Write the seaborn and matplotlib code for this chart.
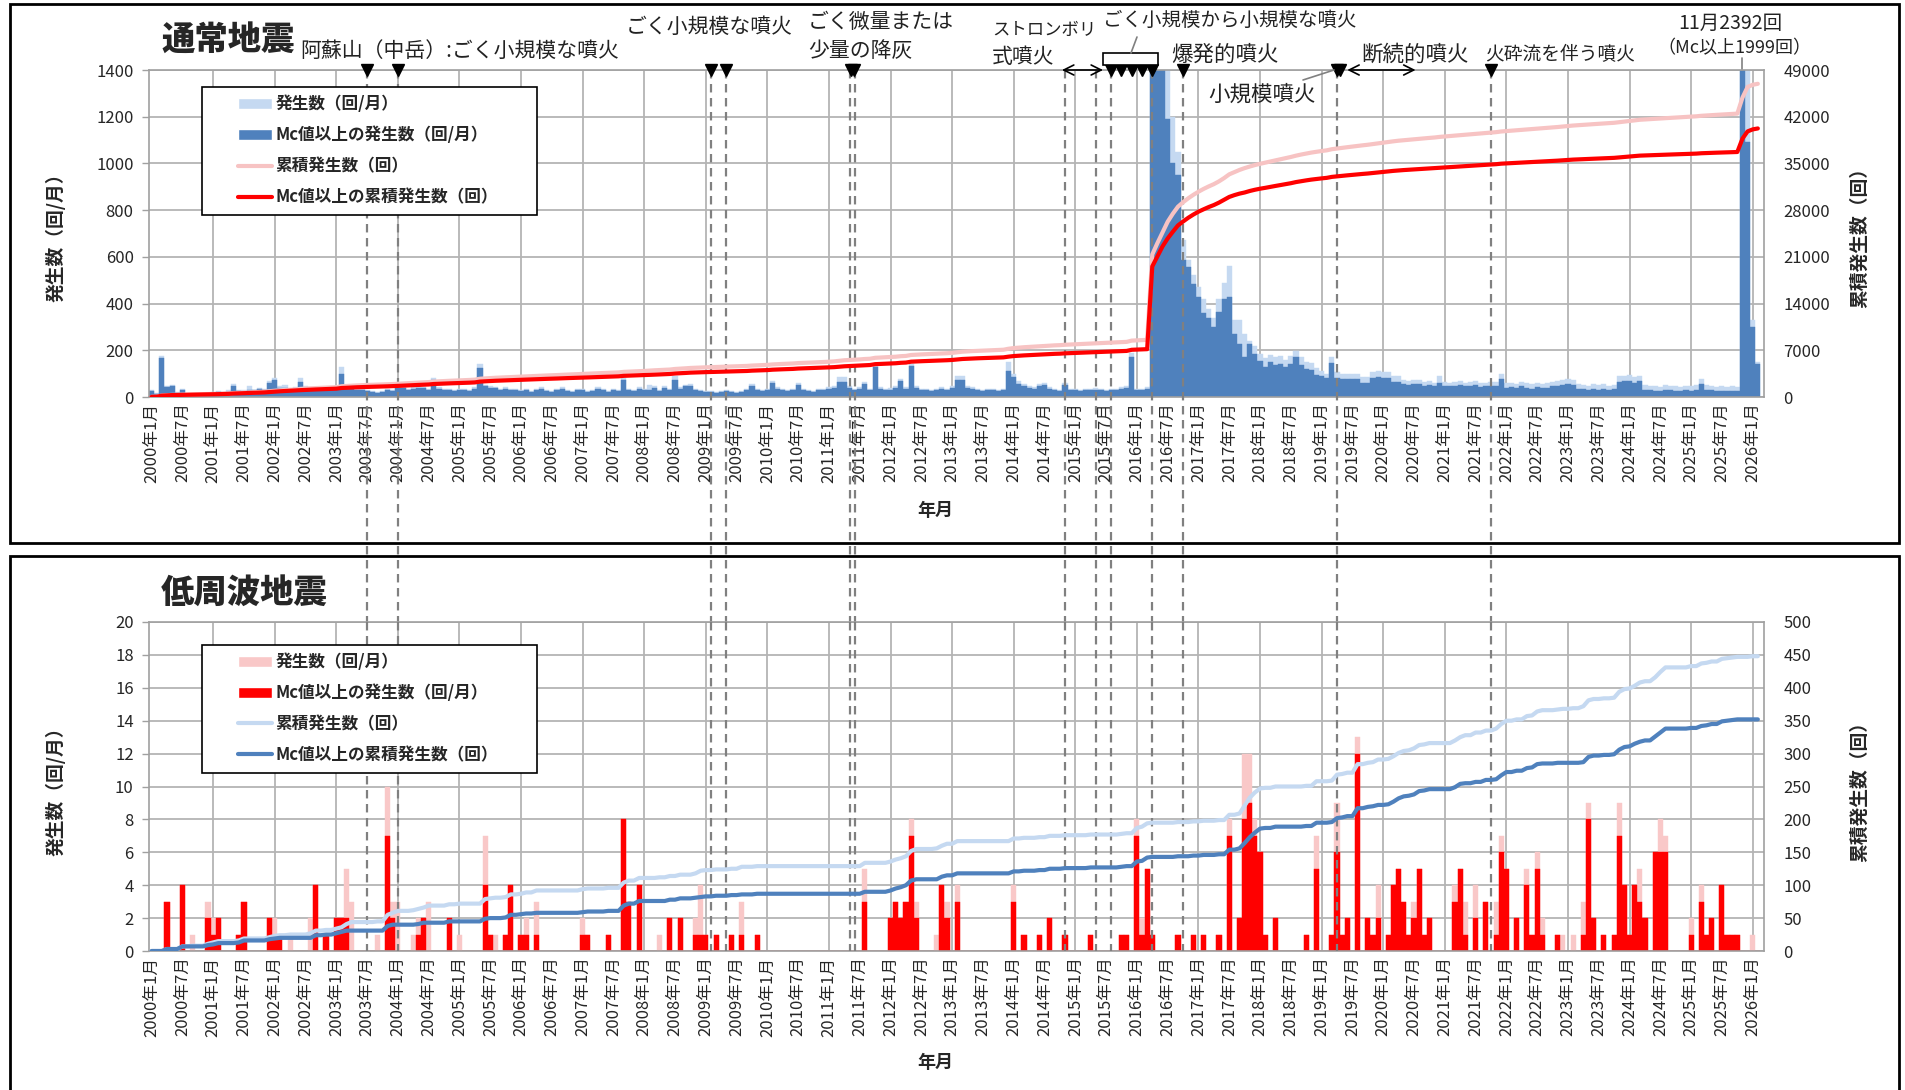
import numpy as np
import pandas as pd
import matplotlib
matplotlib.use("Agg")
import matplotlib.pyplot as plt
import matplotlib.transforms as mtransforms
from matplotlib.patches import Patch, Rectangle
from matplotlib.lines import Line2D
from matplotlib.legend_handler import HandlerPatch, HandlerLine2D
import seaborn as sns

# monthly counts, 2000-01 .. 2026-02, one row per year
vt_total = [
    28, 15, 175, 48, 50, 22, 34, 12, 10, 13, 15, 18,
    22, 25, 22, 28, 55, 30, 28, 45, 32, 40, 35, 70,
    83, 48, 50, 36, 42, 83, 48, 42, 36, 33, 30, 35,
    40, 130, 48, 45, 38, 36, 30, 25, 22, 26, 33, 30,
    45, 46, 36, 42, 46, 44, 36, 80, 42, 34, 36, 30,
    33, 36, 30, 42, 140, 52, 46, 44, 36, 42, 33, 36,
    30, 36, 27, 34, 42, 30, 25, 36, 42, 30, 27, 36,
    36, 27, 30, 42, 34, 27, 36, 30, 80, 34, 30, 42,
    34, 50, 48, 30, 45, 36, 90, 42, 52, 55, 36, 30,
    27, 25, 22, 27, 30, 25, 22, 25, 36, 55, 34, 30,
    36, 68, 42, 34, 30, 36, 60, 36, 30, 27, 34, 36,
    42, 48, 85, 85, 48, 36, 42, 65, 36, 140, 42, 36,
    38, 48, 78, 42, 140, 48, 36, 34, 30, 36, 42, 36,
    48, 92, 92, 48, 42, 36, 30, 34, 36, 30, 36, 150,
    100, 70, 55, 48, 42, 55, 58, 42, 36, 30, 58, 36,
    34, 30, 36, 34, 38, 36, 30, 34, 36, 42, 48, 190,
    36, 34, 42, 12800, 1700, 1600, 1600, 1200, 1050, 672, 586, 521,
    470, 420, 375, 340, 420, 490, 560, 330, 330, 270, 240, 220,
    185, 165, 180, 170, 175, 160, 175, 195, 170, 150, 145, 125,
    110, 100, 170, 105, 98, 98, 98, 98, 85, 85, 105, 112,
    105, 105, 90, 90, 72, 68, 74, 72, 65, 68, 62, 90,
    65, 62, 65, 70, 62, 65, 68, 60, 62, 66, 65, 100,
    60, 62, 56, 66, 60, 54, 62, 56, 60, 66, 68, 74,
    75, 72, 54, 52, 48, 54, 50, 54, 48, 52, 90, 92,
    95, 86, 90, 50, 48, 45, 44, 50, 48, 45, 44, 48,
    46, 50, 78, 52, 48, 44, 46, 43, 46, 44, 2392, 1600,
    330, 150,
]
vt_mc = [
    25, 12, 165, 42, 45, 18, 30, 10, 8, 10, 12, 14,
    18, 20, 18, 22, 48, 25, 22, 30, 28, 35, 30, 58,
    72, 40, 38, 30, 35, 64, 40, 35, 30, 28, 25, 30,
    35, 100, 40, 38, 32, 30, 25, 20, 18, 22, 28, 25,
    38, 40, 30, 35, 40, 38, 30, 72, 35, 28, 30, 25,
    28, 30, 25, 35, 125, 45, 40, 38, 30, 35, 28, 30,
    25, 30, 22, 28, 35, 25, 20, 30, 35, 25, 22, 30,
    30, 22, 25, 35, 28, 22, 30, 25, 72, 28, 25, 35,
    28, 30, 40, 25, 38, 30, 72, 35, 45, 48, 30, 25,
    22, 20, 18, 22, 25, 20, 18, 20, 30, 49, 28, 25,
    30, 60, 35, 28, 25, 30, 53, 30, 25, 22, 28, 30,
    35, 40, 64, 64, 40, 30, 35, 57, 30, 128, 35, 30,
    32, 40, 68, 35, 131, 40, 30, 28, 25, 30, 35, 30,
    40, 73, 73, 40, 35, 30, 25, 28, 30, 25, 30, 110,
    85, 55, 45, 40, 35, 45, 50, 35, 30, 25, 50, 30,
    28, 25, 30, 28, 32, 30, 25, 28, 30, 35, 40, 170,
    30, 28, 35, 12400, 1500, 1500, 1190, 1000, 950, 586, 557, 485,
    430, 360, 340, 300, 365, 420, 430, 270, 225, 170, 225, 185,
    155, 130, 150, 135, 140, 130, 140, 170, 135, 120, 115, 95,
    88, 80, 145, 82, 75, 75, 75, 75, 62, 62, 82, 85,
    82, 80, 66, 66, 55, 50, 56, 54, 48, 50, 46, 60,
    48, 45, 47, 52, 45, 47, 50, 42, 45, 48, 47, 78,
    40, 42, 38, 45, 40, 35, 42, 38, 40, 45, 48, 52,
    54, 50, 35, 33, 30, 35, 32, 35, 30, 33, 65, 68,
    70, 62, 68, 30, 28, 26, 25, 30, 28, 26, 25, 28,
    26, 30, 55, 32, 28, 25, 26, 24, 26, 25, 1999, 1090,
    300, 140,
]
lf_total = [
    0, 0, 0, 3, 0, 0, 4, 0, 1, 0, 0, 3,
    2, 2, 0, 0, 0, 1, 3, 0, 0, 0, 0, 2,
    2, 1, 0, 1, 0, 0, 0, 2, 4, 0, 1, 0,
    2, 2, 5, 3, 0, 0, 0, 0, 1, 0, 10, 3,
    3, 0, 0, 1, 2, 2, 3, 0, 0, 0, 2, 0,
    1, 0, 0, 0, 0, 7, 1, 1, 0, 1, 4, 0,
    1, 2, 0, 3, 0, 0, 0, 0, 0, 0, 0, 0,
    2, 1, 0, 0, 0, 1, 0, 0, 8, 3, 0, 4,
    0, 0, 0, 1, 0, 2, 0, 2, 0, 0, 2, 4,
    1, 0, 1, 0, 0, 1, 0, 3, 0, 0, 1, 0,
    0, 0, 0, 0, 0, 0, 0, 0, 0, 0, 0, 0,
    0, 0, 0, 0, 0, 0, 0, 5, 0, 0, 0, 0,
    2, 3, 2, 3, 8, 3, 0, 0, 0, 1, 4, 3,
    0, 4, 0, 0, 0, 0, 0, 0, 0, 0, 0, 0,
    4, 0, 1, 0, 0, 1, 0, 2, 0, 0, 1, 0,
    0, 0, 0, 1, 0, 0, 0, 0, 0, 1, 1, 0,
    8, 2, 5, 1, 0, 0, 0, 0, 1, 0, 0, 1,
    0, 1, 0, 0, 1, 0, 8, 0, 2, 12, 12, 8,
    6, 1, 0, 2, 0, 0, 0, 0, 0, 1, 0, 7,
    0, 0, 1, 9, 1, 2, 0, 13, 0, 2, 1, 4,
    0, 1, 4, 5, 3, 1, 3, 5, 1, 2, 0, 0,
    0, 0, 4, 5, 3, 0, 4, 0, 3, 0, 3, 7,
    5, 0, 2, 0, 5, 1, 6, 2, 0, 0, 1, 1,
    0, 1, 0, 3, 9, 2, 0, 1, 0, 1, 9, 4,
    1, 4, 5, 2, 0, 6, 8, 7, 0, 0, 0, 0,
    2, 0, 4, 1, 2, 0, 4, 1, 1, 1, 0, 0,
    1, 0,
]
lf_mc = [
    0, 0, 0, 3, 0, 0, 4, 0, 0, 0, 0, 2,
    1, 2, 0, 0, 0, 1, 3, 0, 0, 0, 0, 2,
    1, 1, 0, 0, 0, 0, 0, 0, 4, 0, 1, 0,
    2, 2, 2, 0, 0, 0, 0, 0, 0, 0, 7, 2,
    0, 0, 0, 0, 1, 2, 0, 0, 0, 0, 2, 0,
    0, 0, 0, 0, 0, 4, 1, 0, 0, 1, 4, 0,
    1, 1, 0, 1, 0, 0, 0, 0, 0, 0, 0, 0,
    1, 1, 0, 0, 0, 1, 0, 0, 8, 3, 0, 4,
    0, 0, 0, 0, 0, 2, 0, 2, 0, 0, 1, 1,
    1, 0, 1, 0, 0, 1, 0, 1, 0, 0, 1, 0,
    0, 0, 0, 0, 0, 0, 0, 0, 0, 0, 0, 0,
    0, 0, 0, 0, 0, 0, 0, 3, 0, 0, 0, 0,
    2, 3, 2, 3, 7, 2, 0, 0, 0, 0, 4, 2,
    0, 3, 0, 0, 0, 0, 0, 0, 0, 0, 0, 0,
    3, 0, 1, 0, 0, 1, 0, 2, 0, 0, 1, 0,
    0, 0, 0, 1, 0, 0, 0, 0, 0, 1, 1, 0,
    7, 1, 5, 1, 0, 0, 0, 0, 1, 0, 0, 1,
    0, 1, 0, 0, 1, 0, 7, 0, 2, 8, 9, 7,
    6, 1, 0, 2, 0, 0, 0, 0, 0, 1, 0, 5,
    0, 0, 1, 6, 1, 2, 0, 12, 0, 2, 1, 2,
    0, 1, 4, 5, 3, 1, 2, 5, 1, 2, 0, 0,
    0, 0, 3, 5, 1, 0, 2, 0, 3, 0, 1, 6,
    5, 0, 2, 0, 4, 1, 5, 1, 0, 0, 1, 0,
    0, 0, 0, 1, 8, 2, 0, 1, 0, 1, 7, 4,
    1, 4, 3, 2, 0, 6, 6, 6, 0, 0, 0, 0,
    1, 0, 3, 1, 2, 0, 4, 1, 1, 1, 0, 0,
    0, 0,
]

# eruption events (month index from 2000-01)
event_months = [42, 48, 109, 112, 136, 137, 178, 184, 187, 195, 201, 231, 261]
eruption_marks = [42, 48, 109, 112, 136.2, 136.8, 187, 189, 191, 193, 195, 201, 231, 231.6, 261]
arrow_spans = [(177.4, 185.4), (233.0, 246.3)]
spike_month = 310

W, H = 1905, 1090


def fx(px):
    return px / W


def fy(py):
    return 1 - py / H


sns.set_theme(style="white")
plt.rcParams["font.family"] = ["Noto Sans CJK JP", "DejaVu Sans"]
plt.rcParams["axes.unicode_minus"] = False

months = np.arange(len(vt_total))
vt = pd.DataFrame({"month": months, "total": vt_total, "mc": vt_mc})
lf = pd.DataFrame({"month": months, "total": lf_total, "mc": lf_mc})
for df in (vt, lf):
    df["cum_total"] = df["total"].cumsum()
    df["cum_mc"] = df["mc"].cumsum()

tick_months = np.arange(0, 313, 6)
tick_labels = [f"{2000 + m // 12}年{m % 12 + 1}月" for m in tick_months]
grid_months = np.arange(12, 314, 12)
grid_c = "#b4b4b4"
spine_c = "#a0a0a0"

fig = plt.figure(figsize=(W / 100, H / 100), dpi=100)
fig.patch.set_facecolor("white")
ax1 = fig.add_axes([fx(149), fy(397), 1615 / W, 327 / H])
ax3 = fig.add_axes([fx(149), fy(951), 1615 / W, 329 / H])


def draw_panel(ax, df, c_all, c_mc, c_cum_all, c_cum_mc, ymax, ystep, rmax, rstep):
    sns.barplot(data=df, x="month", y="total", native_scale=True, width=1.0,
                color=c_all, saturation=1, errorbar=None,
                edgecolor=c_all, linewidth=0.3, ax=ax)
    sns.barplot(data=df, x="month", y="mc", native_scale=True, width=1.0,
                color=c_mc, saturation=1, errorbar=None,
                edgecolor=c_mc, linewidth=0.3, ax=ax)
    axr = ax.twinx()
    sns.lineplot(data=df, x="month", y="cum_total", color=c_cum_all, linewidth=3, ax=axr)
    sns.lineplot(data=df, x="month", y="cum_mc", color=c_cum_mc, linewidth=3, ax=axr)

    ax.set_xlim(-0.5, 314.2)
    ax.set_ylim(0, ymax)
    axr.set_ylim(0, rmax)
    for a in (ax, axr):
        a.set_xlabel("")
        a.set_ylabel("")
    ax.set_yticks(np.arange(0, ymax + 1, ystep))
    axr.set_yticks(np.arange(0, rmax + 1, rstep))
    ax.set_xticks(tick_months)
    ax.set_xticklabels(tick_labels, rotation=90, fontsize=12)
    ax.set_xticks(grid_months, minor=True)
    ax.xaxis.remove_overlapping_locs = False
    ax.set_axisbelow(True)
    ax.grid(axis="y", which="major", color=grid_c, lw=1.3)
    ax.grid(axis="x", which="minor", color=grid_c, lw=1.3)
    ax.tick_params(axis="y", left=True, length=5, width=1, color=spine_c,
                   pad=6, labelsize=12)
    ax.tick_params(axis="x", which="both", bottom=False, length=0, pad=4)
    axr.tick_params(axis="y", right=False, length=0, pad=14, labelsize=12)
    for s in ax.spines.values():
        s.set_color(spine_c)
        s.set_linewidth(1.2)
    for s in axr.spines.values():
        s.set_visible(False)
    return axr


ax2 = draw_panel(ax1, vt, "#c5d9f1", "#4f81bd", "#f7c3c3", "#ff0000", 1400, 200, 49000, 7000)
ax4 = draw_panel(ax3, lf, "#f9c8c8", "#ff0000", "#c5d9f1", "#4f81bd", 20, 2, 500, 50)

# eruption lines across both panels
dash = dict(color="#808080", lw=1.6, ls=(0, (3.8, 2.5)), zorder=3)
t_top = mtransforms.blended_transform_factory(ax1.transData, fig.transFigure)
t_bot = mtransforms.blended_transform_factory(ax3.transData, fig.transFigure)
for m in event_months:
    ax1.plot([m, m], [fy(70), fy(622)], transform=t_top, clip_on=False, **dash)
    ax3.plot([m, m], [fy(622), fy(951)], transform=t_bot, clip_on=False, **dash)

ax1.plot(eruption_marks, [1400] * len(eruption_marks), ls="none", marker="v",
         ms=8.5, color="black", clip_on=False, zorder=6)
for a, b in arrow_spans:
    ax1.annotate("", xy=(b, 1400), xytext=(a, 1400), annotation_clip=False,
                 arrowprops=dict(arrowstyle="<->,head_length=0.6,head_width=0.3",
                                 color="black", lw=1.2, shrinkA=0, shrinkB=0))
ax1.plot([spike_month, spike_month], [fy(58), fy(70)], transform=t_top,
         clip_on=False, color="#808080", lw=1.2)
ax1.set_xlim(-0.5, 314.2)
ax1.set_ylim(0, 1400)
ax3.set_xlim(-0.5, 314.2)
ax3.set_ylim(0, 20)

# bracket over the 2015-2016 eruptions
fig.patches.append(Rectangle((fx(1103), fy(65)), (1158 - 1103) / W, 12 / H,
                             transform=fig.transFigure, facecolor="white",
                             edgecolor="black", lw=1.2))
fig.lines.append(Line2D([fx(1131), fx(1137)], [fy(53), fy(37)], transform=fig.transFigure,
                        color="#808080", lw=1.2))
fig.lines.append(Line2D([fx(1303), fx(1334)], [fy(80), fy(70)], transform=fig.transFigure,
                        color="#808080", lw=1.2))

# legends
leg_kw = dict(loc="upper left", mode="expand", borderaxespad=0, frameon=True,
              fancybox=False, edgecolor="black", framealpha=1,
              prop={"size": 12, "weight": "bold"}, handlelength=3.7,
              handletextpad=0.2, labelspacing=0.78, borderpad=0.5,
              handler_map={Patch: HandlerPatch(xpad=1.65), Line2D: HandlerLine2D(xpad=1.65)})
top_handles = [Patch(facecolor="#c5d9f1"), Patch(facecolor="#4f81bd"),
               Line2D([], [], color="#f7c3c3", lw=3), Line2D([], [], color="#ff0000", lw=3)]
bot_handles = [Patch(facecolor="#f9c8c8"), Patch(facecolor="#ff0000"),
               Line2D([], [], color="#c5d9f1", lw=3), Line2D([], [], color="#4f81bd", lw=3)]
labels_bar = ["発生数（回/月）", "Mc値以上の発生数（回/月）", "累積発生数（回）", "Mc値以上の累積発生数（回）"]
lg = ax2.legend(top_handles, labels_bar,
                bbox_to_anchor=((202 - 149) / 1615, (397 - 214) / 327, 335 / 1615, 127 / 327), **leg_kw)
lg.get_frame().set_linewidth(1.2)
lg = ax4.legend(bot_handles, labels_bar,
                bbox_to_anchor=((202 - 149) / 1615, (951 - 769) / 329, 335 / 1615, 124 / 329), **leg_kw)
lg.get_frame().set_linewidth(1.2)

# panel frames
fig.patches.append(Rectangle((fx(10), fy(543)), 1889 / W, 539 / H, transform=fig.transFigure,
                             fill=False, edgecolor="black", lw=2))
fig.patches.append(Rectangle((fx(10), -0.02), 1889 / W, (1090 - 556) / H + 0.02,
                             transform=fig.transFigure, fill=False, edgecolor="black", lw=2))

# titles and axis labels
fig.text(fx(161), fy(39), "通常地震", fontsize=24, fontweight="heavy", ha="left", va="center")
fig.text(fx(161), fy(592), "低周波地震", fontsize=24, fontweight="heavy", ha="left", va="center")
for yy in (233, 787):
    fig.text(fx(55), fy(yy), "発生数（回/月）", rotation=90, fontsize=13.5, fontweight="bold",
             ha="center", va="center")
    fig.text(fx(1859), fy(yy), "累積発生数（回）", rotation=90, fontsize=13.5, fontweight="bold",
             ha="center", va="center")
fig.text(fx(935), fy(510), "年月", fontsize=13, fontweight="bold", ha="center", va="center")
fig.text(fx(935), fy(1063), "年月", fontsize=13, fontweight="bold", ha="center", va="center")

# eruption notes
notes = [
    (300, 51, "阿蘇山（中岳）:ごく小規模な噴火", 15),
    (626, 27, "ごく小規模な噴火", 15),
    (808, 22, "ごく微量または", 15),
    (808, 51, "少量の降灰", 15),
    (992, 30, "ストロンボリ", 12.5),
    (992, 57, "式噴火", 15),
    (1103, 20, "ごく小規模から小規模な噴火", 14),
    (1171, 55, "爆発的噴火", 15.5),
    (1208, 95, "小規模噴火", 15.5),
    (1361, 55, "断続的噴火", 15.5),
    (1485, 55, "火砕流を伴う噴火", 13.5),
    (1678, 23, "11月2392回", 14),
    (1657, 48, "（Mc以上1999回）", 13),
]
for x, y, s, size in notes:
    fig.text(fx(x), fy(y), s, fontsize=size, ha="left", va="center", color="#222222")

fig.savefig("out.png", dpi=100, facecolor="white")
